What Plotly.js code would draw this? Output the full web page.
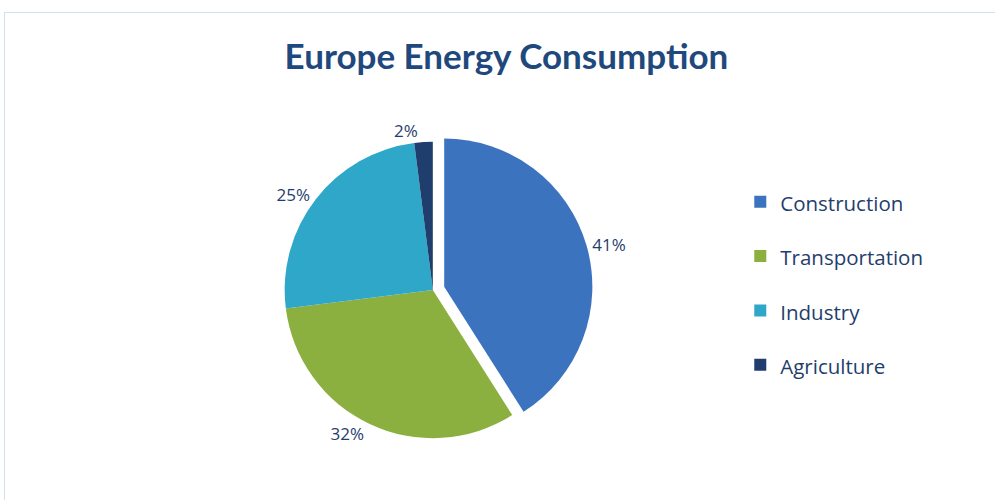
<!DOCTYPE html>
<html><head><meta charset="utf-8">
<script src="https://cdn.plot.ly/plotly-3.0.1.min.js"></script>
<style>
html,body{margin:0;padding:0;background:#fff;}
#frame{position:absolute;left:4px;top:12px;width:991px;height:488px;border-left:1px solid #cfe0f1;border-top:1px solid #cfe0f1;}
#chart{position:absolute;left:0;top:0;width:995px;height:500px;}
</style></head>
<body>
<div id="frame"></div>
<div id="chart"></div>
<script>
const categories = ["Construction", "Transportation", "Industry", "Agriculture"];
const shares = [41, 32, 25, 2];
const colors = ["#3b73be", "#8cb03f", "#2ea7c9", "#1f3e6d"];

const legendLabels = categories.map(c => '<span style="font-size:20.5px;baseline-shift:6.5px">' + c + '</span>');

const trace = {
  type: "pie",
  labels: legendLabels,
  values: shares,
  sort: false,
  direction: "clockwise",
  rotation: 0,
  pull: [0.08, 0, 0, 0],
  marker: {colors: colors, line: {color: "rgba(255,255,255,0)", width: 0}},
  textinfo: "percent",
  textposition: "outside",
  texttemplate: "%{percent:.0%}",
  textfont: {family: "Open Sans", size: 17, color: "#1f3e6d"},
  outsidetextfont: {family: "Open Sans", size: 17, color: "#1f3e6d"},
  automargin: false,
  domain: {x: [0.27, 0.6], y: [0.1, 0.74]},
  hoverinfo: "percent"
};

const layout = {
  width: 995, height: 500,
  paper_bgcolor: "rgba(0,0,0,0)",
  plot_bgcolor: "rgba(0,0,0,0)",
  margin: {l: 0, r: 0, t: 0, b: 0},
  title: {text: "<b>Europe Energy Consumption</b>", x: 0.509, xanchor: "center", y: 0.886, yanchor: "middle",
    font: {family: "Lato", size: 35, color: "#1f497d"}},
  showlegend: true,
  legend: {x: 0.744, y: 0.433, xanchor: "left", yanchor: "middle",
    font: {family: "Open Sans", size: 39.5, color: "#1f3e6d"}, itemwidth: 30}
};

Plotly.newPlot("chart", [trace], layout, {displayModeBar: false});
</script>
</body></html>
